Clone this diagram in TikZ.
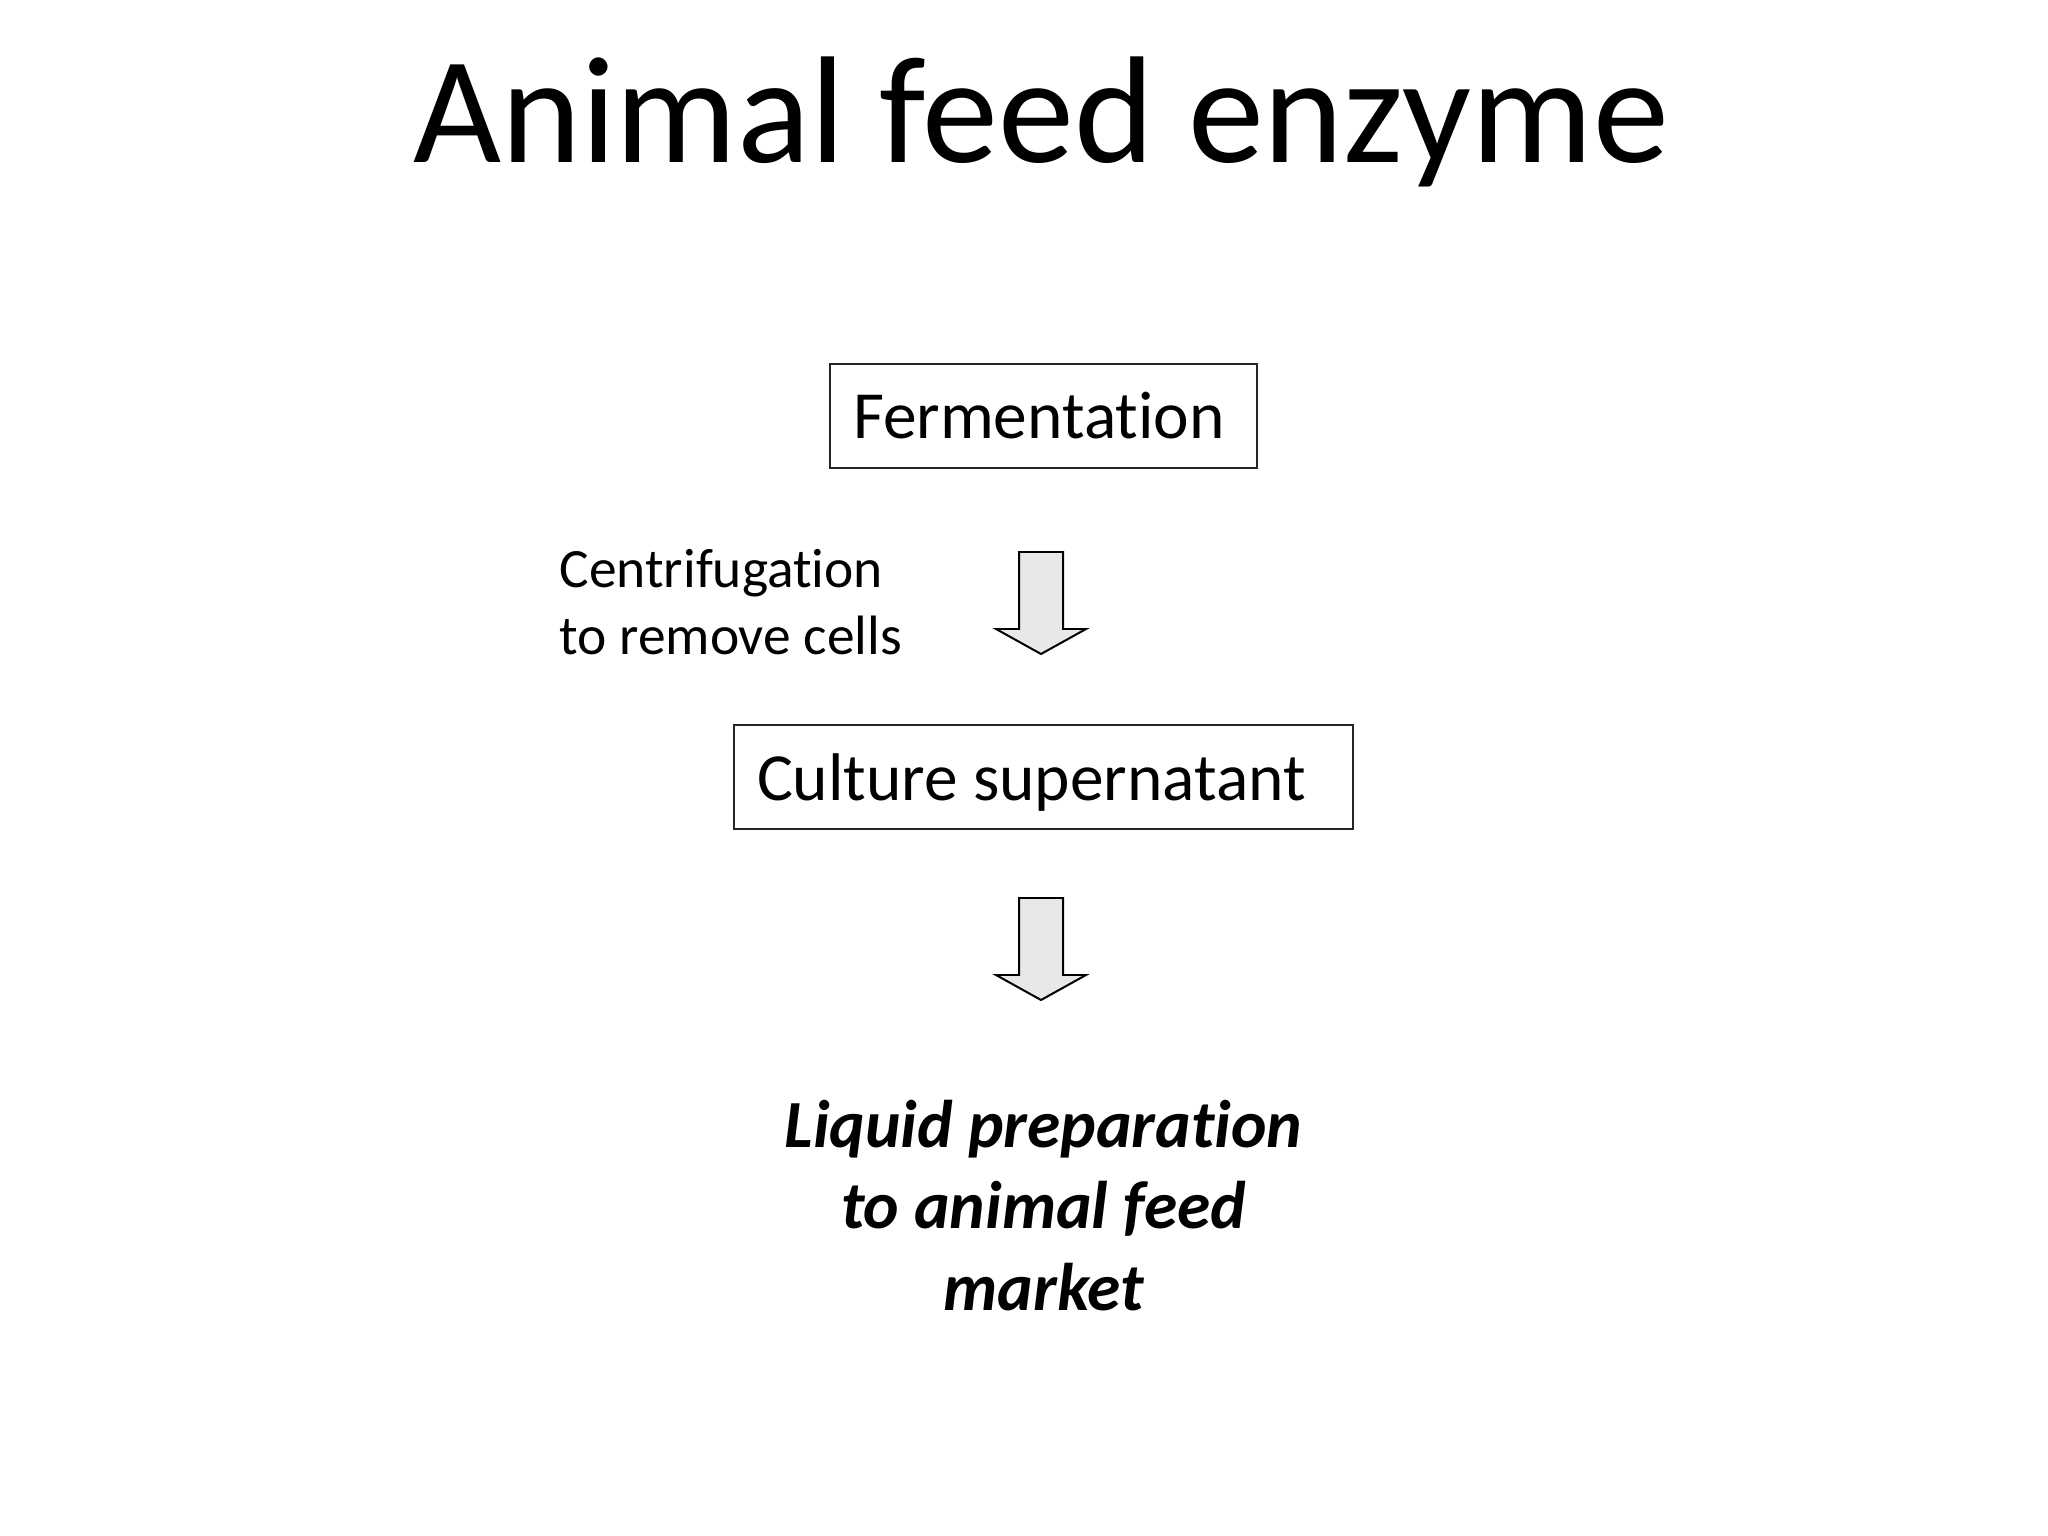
\documentclass[tikz,border=0pt]{standalone}
\usepackage{fontspec}
\setmainfont{Carlito}[Ligatures=NoCommon]
\begin{document}
\begin{tikzpicture}[x=0.3515625pt,y=-0.3515625pt,
  stagebox/.style={draw=black!85,line width=0.75pt,inner xsep=23*0.3515625pt,inner ysep=0pt,
    minimum height=104*0.3515625pt,align=flush left,text height=46*0.3515625pt,text depth=0pt,
    font=\fontsize{23.7pt}{28.5pt}\selectfont},
  blockarrow/.style={draw=black,fill=black!9,line width=0.7pt,line join=miter},
  note/.style={align=flush left,inner sep=0pt,font=\fontsize{19.5pt}{23.6pt}\selectfont},
  result/.style={align=center,inner sep=0pt,font=\fontsize{23.7pt}{28.5pt}\selectfont\bfseries\itshape}]
\useasboundingbox (0,0) rectangle (2048,1536);
\node[anchor=base,inner sep=0pt,font=\fontsize{53.5pt}{64pt}\selectfont] (title) at (1041,163) {Animal feed enzyme};
\node[stagebox,text width=381*0.3515625pt] (ferm) at (1043.5,416) {Fermentation};
\node[stagebox,text width=573*0.3515625pt] (cult) at (1043.5,777) {Culture supernatant};
\node[note,anchor=base west] (centri) at (559,655) {Centrifugation\\to remove cells};
\node[result,anchor=base] (liquid) at (1043.5,1310) {Liquid preparation\\to animal feed\\market};
\coordinate (a1) at (1041,552);
\coordinate (a2) at (1041,898);
\foreach \c in {a1,a2}{
  \draw[blockarrow] (\c) ++(-22,0) -- ++(44,0) -- ++(0,77) -- ++(23,0) -- ++(-45,25) -- ++(-45,-25) -- ++(23,0) -- cycle;
}
\end{tikzpicture}
\end{document}
